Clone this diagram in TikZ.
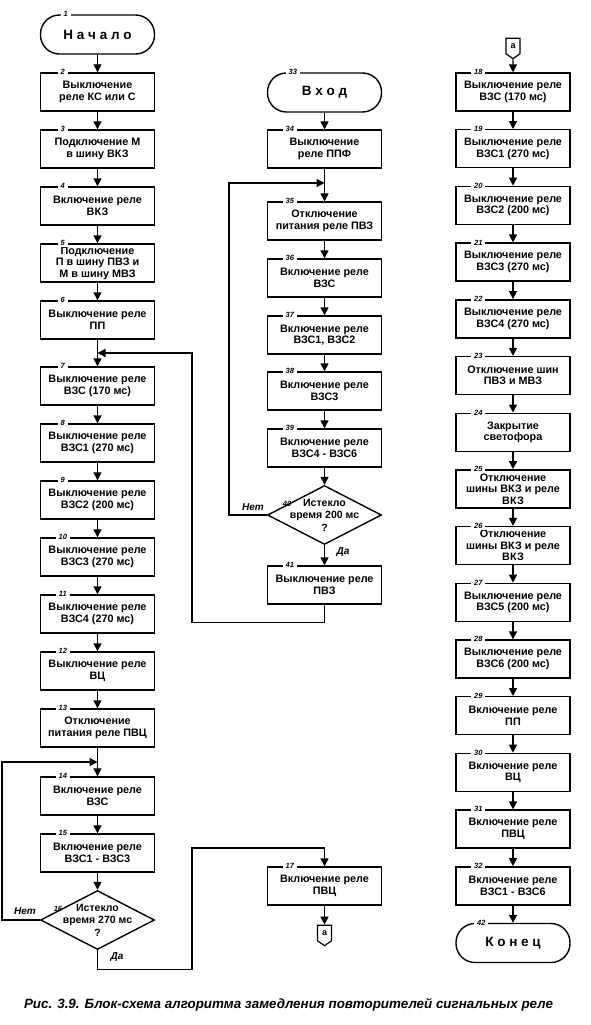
\documentclass[tikz,border=0pt]{standalone}
\usepackage{fontspec}
\setmainfont{Liberation Sans}
\usetikzlibrary{arrows.meta, shapes.geometric, shapes.symbols}

\tikzset{
  blk/.style={draw, line width=1.4pt, minimum width=114pt, minimum height=38pt, inner sep=1pt, align=center, font=\bfseries\fontsize{10.8}{11.5}\selectfont},
  term/.style={blk, rounded corners=19pt, minimum height=39pt, font=\bfseries\fontsize{13.5}{14}\selectfont},
  dec/.style={draw, diamond, line width=1.4pt, minimum width=114pt, minimum height=59pt, inner sep=0pt},
  dtxt/.style={align=center, font=\bfseries\fontsize{10.5}{12.5}\selectfont},
  numlab/.style={fill=white, inner xsep=3pt, inner ysep=1pt, font=\bfseries\itshape\fontsize{7.5}{8}\selectfont},
  nr/.style={append after command={node[numlab] at ([xshift=23pt]\tikzlastnode.north west) {#1}}},
  tnr/.style={append after command={node[numlab] at ([xshift=26pt]\tikzlastnode.north west) {#1}}},
  conn/.style={draw, signal, signal to=south, signal pointer angle=110, line width=1.2pt, minimum width=14pt, minimum height=18pt, inner sep=1pt, font=\bfseries\fontsize{9}{9}\selectfont},
  yn/.style={font=\bfseries\itshape\fontsize{10}{10}\selectfont},
  arr/.style={->, line width=1.4pt}
}

\begin{document}
\begin{tikzpicture}[x=1pt, y=-1pt, >={Triangle[length=8pt,width=8pt]}]
  \useasboundingbox (0,0) rectangle (590,1025);

  % left column
  \node[term, tnr=1] (t1) at (97.5,34.5) {Н а ч а л о};
  \node[blk, nr=2] (b2) at (97.5,92) {Выключение\\реле КС или С};
  \node[blk, nr=3] (b3) at (97.5,149) {Подключение М\\в шину ВКЗ};
  \node[blk, nr=4] (b4) at (97.5,206) {Включение реле\\ВКЗ};
  \node[blk, nr=5] (b5) at (97.5,263) {Подключение\\П в шину ПВЗ и\\М в шину МВЗ};
  \node[blk, nr=6] (b6) at (97.5,320) {Выключение реле\\ПП};
  \node[blk, nr=7] (b7) at (97.5,386) {Выключение реле\\ВЗС (170 мс)};
  \node[blk, nr=8] (b8) at (97.5,443) {Выключение реле\\ВЗС1 (270 мс)};
  \node[blk, nr=9] (b9) at (97.5,500) {Выключение реле\\ВЗС2 (200 мс)};
  \node[blk, nr=10] (b10) at (97.5,557) {Выключение реле\\ВЗС3 (270 мс)};
  \node[blk, nr=11] (b11) at (97.5,614) {Выключение реле\\ВЗС4 (270 мс)};
  \node[blk, nr=12] (b12) at (97.5,671) {Выключение реле\\ВЦ};
  \node[blk, nr=13] (b13) at (97.5,728) {Отключение\\питания реле ПВЦ};
  \node[blk, nr=14] (b14) at (97.5,796) {Включение реле\\ВЗС};
  \node[blk, nr=15] (b15) at (97.5,853) {Включение реле\\ВЗС1 - ВЗС3};
  \node[dec, label={[dtxt]center:Истекло\\время 270 мс\\?}] (d16) at (97.5,920) {};
  \node[numlab, fill=none] (n16) at (58,909) {16};
  \node[blk, nr=17] (b17) at (324.5,886) {Включение реле\\ПВЦ};
  \node[conn] (ca1) at (324.5,933) {a};
  \coordinate (j7) at (97.5,353);
  \coordinate (j14) at (97.5,762);
  \coordinate (k1) at (192,848);
  \coordinate (k2) at (192,353);

  % middle column
  \node[term, tnr=33] (t33) at (324.5,92.5) {В х о д};
  \node[blk, nr=34] (b34) at (324.5,149) {Выключение\\реле ППФ};
  \node[blk, nr=35] (b35) at (324.5,221) {Отключение\\питания реле ПВЗ};
  \node[blk, nr=36] (b36) at (324.5,278) {Включение реле\\ВЗС};
  \node[blk, nr=37] (b37) at (324.5,335) {Включение реле\\ВЗС1, ВЗС2};
  \node[blk, nr=38] (b38) at (324.5,391) {Включение реле\\ВЗС3};
  \node[blk, nr=39] (b39) at (324.5,448) {Включение реле\\ВЗС4 - ВЗС6};
  \node[dec, label={[dtxt]center:Истекло\\время 200 мс\\?}] (d40) at (324.5,515) {};
  \node[numlab, fill=none] (n40) at (287,504) {40};
  \node[blk, nr=41] (b41) at (324.5,585) {Выключение реле\\ПВЗ};
  \coordinate (j35) at (324.5,183);

  % right column
  \node[conn] (ca2) at (513,46) {a};
  \node[blk, nr=18] (b18) at (513,92) {Выключение реле\\ВЗС (170 мс)};
  \node[blk, nr=19] (b19) at (513,148.7) {Выключение реле\\ВЗС1 (270 мс)};
  \node[blk, nr=20] (b20) at (513,205.4) {Выключение реле\\ВЗС2 (200 мс)};
  \node[blk, nr=21] (b21) at (513,262.1) {Выключение реле\\ВЗС3 (270 мс)};
  \node[blk, nr=22] (b22) at (513,318.8) {Выключение реле\\ВЗС4 (270 мс)};
  \node[blk, nr=23] (b23) at (513,375.5) {Отключение шин\\ПВЗ и МВЗ};
  \node[blk, nr=24] (b24) at (513,432.2) {Закрытие\\светофора};
  \node[blk, nr=25] (b25) at (513,488.9) {Отключение\\шины ВКЗ и реле\\ВКЗ};
  \node[blk, nr=26] (b26) at (513,545.6) {Отключение\\шины ВКЗ и реле\\ВКЗ};
  \node[blk, nr=27] (b27) at (513,602.3) {Выключение реле\\ВЗС5 (200 мс)};
  \node[blk, nr=28] (b28) at (513,659) {Выключение реле\\ВЗС6 (200 мс)};
  \node[blk, nr=29] (b29) at (513,715.7) {Включение реле\\ПП};
  \node[blk, nr=30] (b30) at (513,772.4) {Включение реле\\ВЦ};
  \node[blk, nr=31] (b31) at (513,829.1) {Включение реле\\ПВЦ};
  \node[blk, nr=32] (b32) at (513,885.8) {Включение реле\\ВЗС1 - ВЗС6};
  \node[term, tnr=42] (t42) at (513,943) {К о н е ц};

  % connectors
  \draw[arr] (t1) -- (b2);
  \draw[arr] (b2) -- (b3);
  \draw[arr] (b3) -- (b4);
  \draw[arr] (b4) -- (b5);
  \draw[arr] (b5) -- (b6);
  \draw[arr] (b6) -- (b7);
  \draw[arr] (b7) -- (b8);
  \draw[arr] (b8) -- (b9);
  \draw[arr] (b9) -- (b10);
  \draw[arr] (b10) -- (b11);
  \draw[arr] (b11) -- (b12);
  \draw[arr] (b12) -- (b13);
  \draw[arr] (b13) -- (b14);
  \draw[arr] (b14) -- (b15);
  \draw[arr] (b15) -- (d16);
  \draw[arr] (d16.west) -- ++(-38,0) |- (j14);
  \draw[arr] (d16.south) -- ++(0,19) -| (k1) -| (b17);
  \draw[arr] (b17) -- (ca1);
  \draw[arr] (t33) -- (b34);
  \draw[arr] (b34) -- (b35);
  \draw[arr] (b35) -- (b36);
  \draw[arr] (b36) -- (b37);
  \draw[arr] (b37) -- (b38);
  \draw[arr] (b38) -- (b39);
  \draw[arr] (b39) -- (d40);
  \draw[arr] (d40.west) -- ++(-38,0) |- (j35);
  \draw[arr] (d40) -- (b41);
  \draw[arr] (b41.south) -- ++(0,18) -| (k2) -- (j7);
  \draw[arr] (ca2) -- (b18);
  \draw[arr] (b18) -- (b19);
  \draw[arr] (b19) -- (b20);
  \draw[arr] (b20) -- (b21);
  \draw[arr] (b21) -- (b22);
  \draw[arr] (b22) -- (b23);
  \draw[arr] (b23) -- (b24);
  \draw[arr] (b24) -- (b25);
  \draw[arr] (b25) -- (b26);
  \draw[arr] (b26) -- (b27);
  \draw[arr] (b27) -- (b28);
  \draw[arr] (b28) -- (b29);
  \draw[arr] (b29) -- (b30);
  \draw[arr] (b30) -- (b31);
  \draw[arr] (b31) -- (b32);
  \draw[arr] (b32) -- (t42);

  \node[yn] (no16) at (25,911) {Нет};
  \node[yn] (yes16) at (117,957) {Да};
  \node[yn] (no40) at (253,507) {Нет};
  \node[yn] (yes40) at (343,552) {Да};

  \node[font=\bfseries\itshape\fontsize{13.4}{14}\selectfont] (cap) at (288.5,1005) {Рис. 3.9. Блок-схема алгоритма замедления повторителей сигнальных реле};
\end{tikzpicture}
\end{document}
